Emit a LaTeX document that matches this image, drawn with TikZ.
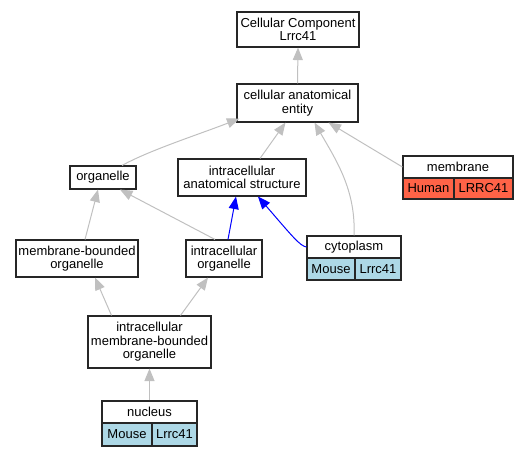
\documentclass[tikz,border=0pt]{standalone}
\usepackage{fontspec}
\setmainfont{Liberation Sans}
\usetikzlibrary{arrows.meta,calc}
\definecolor{edgegray}{HTML}{C0C0C0}
\definecolor{humanred}{HTML}{FF6347}
\definecolor{mouseblue}{HTML}{ADD8E6}
\begin{document}
\begin{tikzpicture}[x=1pt,y=-1pt,
  box/.style={draw=black!85, line width=1.1pt, fill=white, inner sep=0pt, align=center,
    font=\fontsize{13}{13.5}\selectfont},
  human/.style={box, fill=humanred},
  mouse/.style={box, fill=mouseblue},
  edge/.style={draw=edgegray, line width=1pt, -{Triangle[length=12.5pt,width=10pt]}},
  bedge/.style={draw=blue, line width=1pt, -{Triangle[length=12.5pt,width=10pt]}}]
\useasboundingbox (0,0) rectangle (527,456);
% nodes
\node[box, minimum width=122pt, minimum height=35pt] (cc) at (298,29.5) {Cellular Component\\Lrrc41};
\node[box, minimum width=121pt, minimum height=38pt] (cae) at (297.5,103) {cellular anatomical\\entity};
\node[box, minimum width=66pt, minimum height=23pt] (org) at (103,177.5) {organelle};
\node[box, minimum width=128pt, minimum height=37pt] (ias) at (242,177.5) {intracellular\\anatomical structure};
\node[box, minimum width=122pt, minimum height=37pt] (mbo) at (77,258.5) {membrane-bounded\\organelle};
\node[box, minimum width=76pt, minimum height=37pt] (io) at (224,258.5) {intracellular\\organelle};
\node[box, minimum width=123pt, minimum height=52pt] (imbo) at (149.5,342) {intracellular\\membrane-bounded\\organelle};
% membrane record
\node[box, minimum width=110pt, minimum height=22pt] (mem) at (458,167) {membrane};
\node[human, minimum width=51pt, minimum height=21pt] (memH) at (428.5,188.5) {Human};
\node[human, minimum width=59pt, minimum height=21pt] (memL) at (483.5,188.5) {LRRC41};
% cytoplasm record
\node[box, minimum width=94pt, minimum height=22pt] (cyto) at (354,247) {cytoplasm};
\node[mouse, minimum width=48pt, minimum height=22pt] (cytoM) at (331,269) {Mouse};
\node[mouse, minimum width=46pt, minimum height=22pt] (cytoL) at (378,269) {Lrrc41};
% nucleus record
\node[box, minimum width=95pt, minimum height=22pt] (nuc) at (149.5,412) {nucleus};
\node[mouse, minimum width=50pt, minimum height=23pt] (nucM) at (127,434.5) {Mouse};
\node[mouse, minimum width=45pt, minimum height=23pt] (nucL) at (174.5,434.5) {Lrrc41};
% edges
\draw[edge] (cae.north) -- (cc.south);
\draw[edge] ($(org.north)+(19,0)$) .. controls (150,150) and (200,134) .. ($(cae.south west)+(3,-4)$);
\draw[edge] ($(ias.north)+(18,0)$) -- ($(cae.south)+(-12,0)$);
\draw[edge] ($(cyto.north)+(0,0)$) .. controls (356,190) and (336,160) .. ($(cae.south)+(17,0)$);
\draw[edge] (mem.west) -- ($(cae.south)+(31,0)$);
\draw[edge] ($(mbo.north)+(8,0)$) -- ($(org.south)+(-5,0)$);
\draw[edge] ($(io.north)+(-9,0)$) -- ($(org.south)+(17,0)$);
\draw[bedge] ($(io.north)+(4,0)$) -- ($(ias.south)+(-6,0)$);
\draw[bedge] (cyto.west) .. controls (300,246) and (292,236) .. ($(ias.south)+(16,0)$);
\draw[edge] ($(imbo.north)+(-38,0)$) -- ($(mbo.south)+(18,0)$);
\draw[edge] ($(imbo.north)+(31,0)$) -- ($(io.south)+(-16,0)$);
\draw[edge] (nuc.north) -- (imbo.south);
\end{tikzpicture}
\end{document}
